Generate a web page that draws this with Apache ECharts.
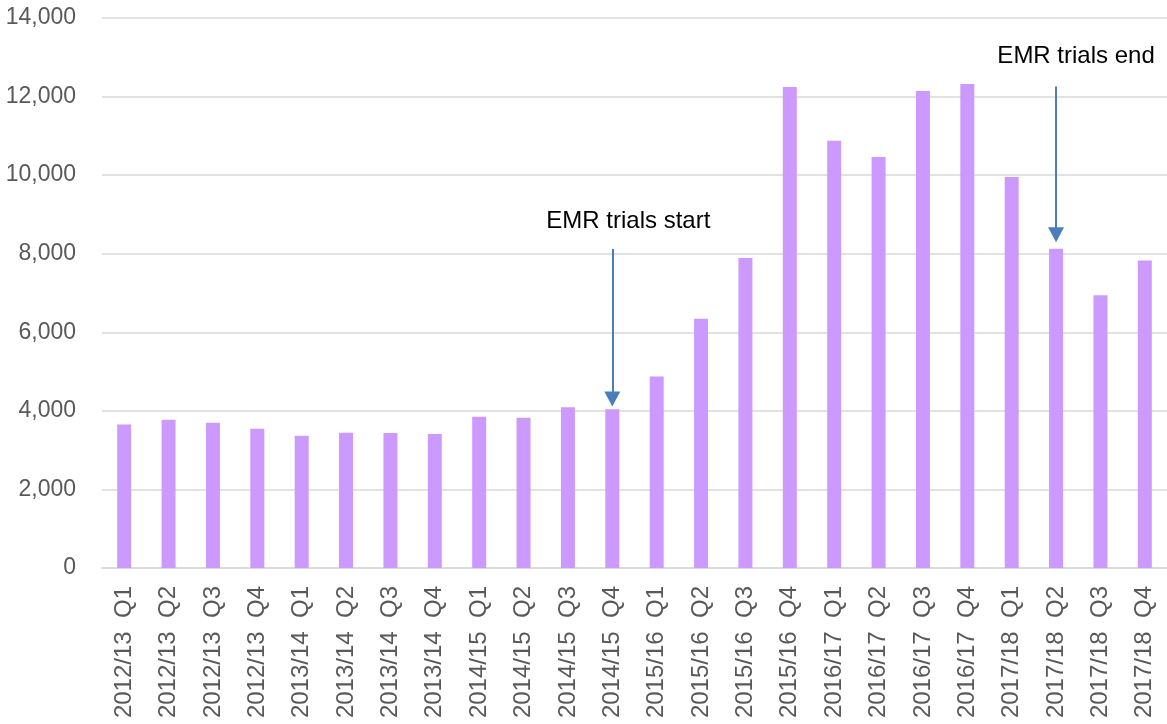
<!DOCTYPE html>
<html>
<head>
<meta charset="utf-8">
<script src="https://cdn.jsdelivr.net/npm/echarts@6/dist/echarts.min.js"></script>
<style>html,body{margin:0;padding:0;background:#fff;}#c{width:1167px;height:724px;}</style>
</head>
<body>
<div id="c"></div>
<script>
const categories = [
  '2012/13  Q1','2012/13  Q2','2012/13  Q3','2012/13  Q4',
  '2013/14  Q1','2013/14  Q2','2013/14  Q3','2013/14  Q4',
  '2014/15  Q1','2014/15  Q2','2014/15  Q3','2014/15  Q4',
  '2015/16  Q1','2015/16  Q2','2015/16  Q3','2015/16  Q4',
  '2016/17  Q1','2016/17  Q2','2016/17  Q3','2016/17  Q4',
  '2017/18  Q1','2017/18  Q2','2017/18  Q3','2017/18  Q4'
];
const values = [
  3655, 3775, 3698, 3545,
  3367, 3440, 3435, 3410,
  3850, 3825, 4090, 4040,
  4877, 6345, 7893, 12243,
  10876, 10461, 12140, 12319,
  9952, 8127, 6940, 7829
];
const yTicks = { min: 0, max: 14000, interval: 2000 };
const annotations = [
  { text: 'EMR trials start', category: '2014/15  Q4', from: 8119, to: 4300 },
  { text: 'EMR trials end', category: '2017/18  Q2', from: 12258, to: 8480 }
];
const labelOffsets = [[16, -28], [20, -30]];

const chart = echarts.init(document.getElementById('c'), null, { renderer: 'canvas' });
const font = 'Liberation Sans, Arial, sans-serif';
chart.setOption({
  animation: false,
  backgroundColor: '#ffffff',
  grid: { left: 102, right: 0, top: 18, bottom: 156, containLabel: false },
  xAxis: {
    type: 'category',
    data: categories,
    axisLine: { show: true, lineStyle: { color: '#d9d9d9', width: 1.5 } },
    axisTick: { show: false },
    axisLabel: { rotate: 90, color: '#595959', fontSize: 24, fontFamily: font, margin: 18, interval: 0 }
  },
  yAxis: {
    type: 'value',
    min: yTicks.min, max: yTicks.max, interval: yTicks.interval,
    axisLine: { show: false },
    axisTick: { show: false },
    splitLine: { lineStyle: { color: '#d9d9d9', width: 1.5 } },
    axisLabel: {
      color: '#595959', fontSize: 23, fontFamily: font, margin: 26,
      formatter: v => v.toLocaleString('en-US')
    }
  },
  series: [{
    type: 'bar',
    data: values,
    barWidth: '31.5%',
    itemStyle: { color: '#CC99FF' },
    markLine: {
      silent: true,
      symbol: ['none', 'triangle'],
      symbolSize: [16, 15],
      label: { show: false },
      lineStyle: { color: '#4A7EBB', width: 2, type: 'solid' },
      data: annotations.map(a => [
        { coord: [a.category, a.from] },
        { coord: [a.category, a.to] }
      ])
    },
    markPoint: {
      silent: true,
      symbol: 'circle',
      symbolSize: 0,
      data: annotations.map((a, i) => ({
        coord: [a.category, a.from],
        label: {
          show: true, position: 'inside', formatter: a.text,
          color: '#000000', fontSize: 24, fontFamily: font,
          offset: labelOffsets[i]
        }
      }))
    }
  }]
});
</script>
</body>
</html>
